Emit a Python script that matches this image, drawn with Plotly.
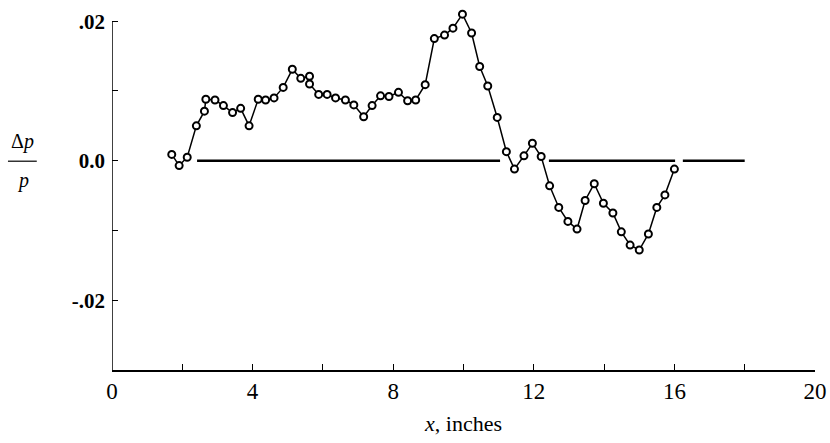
import plotly.graph_objects as go

# Measured data (x in inches, dp/p)
x_in = [1.70, 1.91, 2.14, 2.40, 2.63, 2.67, 2.93, 3.17, 3.43, 3.66,
        3.90, 4.16, 4.37, 4.61, 4.87, 5.13, 5.37, 5.62, 5.62, 5.88,
        6.12, 6.36, 6.64, 6.88, 7.16, 7.40, 7.64, 7.88, 8.15, 8.41,
        8.64, 8.91, 9.17, 9.46, 9.70, 9.97, 10.23, 10.46, 10.69, 10.96,
        11.22, 11.45, 11.72, 11.96, 12.21, 12.45, 12.71, 12.97, 13.23, 13.46,
        13.72, 13.98, 14.25, 14.49, 14.74, 15.00, 15.26, 15.50, 15.73, 16.00]
dp_p = [0.0009, -0.0007, 0.0005, 0.0050, 0.0071, 0.0088, 0.0087, 0.0079, 0.0069, 0.0075,
        0.0050, 0.0088, 0.0087, 0.0090, 0.0105, 0.0131, 0.0118, 0.0121, 0.0110, 0.0095,
        0.0095, 0.0090, 0.0087, 0.0080, 0.0063, 0.0079, 0.0093, 0.0092, 0.0098, 0.0086,
        0.0087, 0.0109, 0.0175, 0.0180, 0.0190, 0.0210, 0.0183, 0.0135, 0.0107, 0.0062,
        0.0013, -0.0012, 0.0007, 0.0025, 0.0006, -0.0036, -0.0067, -0.0087, -0.0098, -0.0057,
        -0.0033, -0.0061, -0.0075, -0.0102, -0.0121, -0.0128, -0.0105, -0.0067, -0.0049, -0.0012]

# Zero reference line segments (start, end)
zero_seg_start = [2.42, 12.43, 16.24]
zero_seg_end = [11.04, 16.02, 18.0]

# Ticks
x_tickvals = [0, 2, 4, 6, 8, 10, 12, 14, 16, 18, 20]
x_ticktext = ["0", "", "4", "", "8", "", "12", "", "16", "", "20"]
y_tickvals = [-0.02, -0.01, 0.0, 0.01, 0.02]
y_ticktext = ["-.02", "", "0.0", "", ".02"]

ref_x, ref_y = [], []
for a, b in zip(zero_seg_start, zero_seg_end):
    ref_x += [a, b, None]
    ref_y += [0, 0, None]

fig = go.Figure()
fig.add_trace(go.Scatter(x=ref_x, y=ref_y, mode="lines",
                         line=dict(color="black", width=2.5), hoverinfo="skip"))
fig.add_trace(go.Scatter(x=x_in, y=dp_p, mode="lines+markers",
                         line=dict(color="black", width=1.5),
                         marker=dict(symbol="circle", size=7, color="white",
                                     line=dict(color="black", width=2)),
                         cliponaxis=False))

serif = "Liberation Serif, Times New Roman, serif"

# y-axis line from -0.03 to 0.02
fig.add_shape(type="line", xref="x", yref="y", x0=0, x1=0, y0=-0.03, y1=0.02,
              line=dict(color="black", width=1.5))
# fraction bar for dp/p
fig.add_shape(type="line", xref="paper", yref="paper", x0=-0.148, x1=-0.107,
              y0=0.58, y1=0.58, line=dict(color="black", width=1.2))

fig.add_annotation(xref="paper", yref="paper", x=-0.127, y=0.597, xanchor="center",
                   yanchor="bottom", text="Δ<i>p</i>", showarrow=False,
                   font=dict(family=serif, size=20, color="black"))
fig.add_annotation(xref="paper", yref="paper", x=-0.127, y=0.565, xanchor="center",
                   yanchor="top", text="<i>p</i>", showarrow=False,
                   font=dict(family=serif, size=20, color="black"))

fig.update_layout(
    width=830, height=443,
    margin=dict(l=112, r=15, t=10, b=73),
    paper_bgcolor="white", plot_bgcolor="white",
    showlegend=False,
    font=dict(family=serif, color="black"),
    xaxis=dict(range=[0, 20], tickvals=x_tickvals, ticktext=x_ticktext,
               automargin=False,
               ticks="inside", ticklen=6, tickwidth=1.2, tickcolor="black",
               showline=True, linecolor="black", linewidth=1.5,
               showgrid=False, zeroline=False,
               tickfont=dict(family=serif, size=23, color="black"),
               title=dict(text="<i>x</i>, inches",
                          font=dict(family=serif, size=22, color="black"),
                          standoff=12)),
    yaxis=dict(range=[-0.03, 0.0216], tickvals=y_tickvals, ticktext=y_ticktext,
               automargin=False,
               ticks="inside", ticklen=6, tickwidth=1.2, tickcolor="black",
               showline=False, showgrid=False, zeroline=False,
               ticklabelstandoff=6,
               tickfont=dict(family=serif, size=21, color="black", weight="bold")),
)

fig.write_html("out.html", config={"displayModeBar": False},
               post_script="document.body.style.margin='0';document.body.style.overflow='hidden';")
